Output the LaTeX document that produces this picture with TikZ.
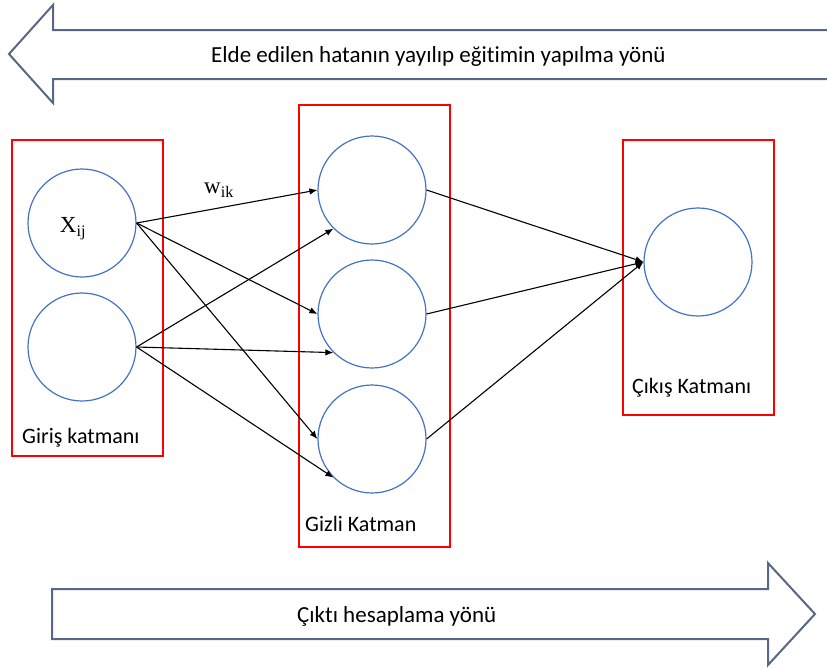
\documentclass[tikz,border=0pt]{standalone}
\usepackage{fontspec}
\setmainfont{Carlito}[Ligatures=NoCommon]
\newfontfamily\timesfont{Liberation Serif}
\usetikzlibrary{arrows.meta}
\definecolor{arrowgray}{RGB}{88,104,132}
\definecolor{neuronblue}{RGB}{68,114,196}
\tikzset{
  neuron/.style={draw=neuronblue, line width=1.2pt, circle, minimum size=108pt, inner sep=0pt},
  layerbox/.style={draw=red, line width=1.3pt},
  blockarrow/.style={draw=arrowgray, line width=2pt},
  lbl/.style={font=\fontsize{22}{26}\selectfont, anchor=base west, inner sep=0pt},
  dirlbl/.style={font=\fontsize{23}{27}\selectfont, anchor=base west, inner sep=0pt},
  symb/.style={font=\timesfont\fontsize{23}{26}\selectfont, inner sep=0pt}
}
\begin{document}
\begin{tikzpicture}[x=1pt,y=-1pt]
  \useasboundingbox (0,0) rectangle (827,667);
  % direction arrows
  \draw[blockarrow] (830,30) -- (53,30) -- (53,5) -- (9,54) -- (53,103) -- (53,79) -- (830,79);
  \node[dirlbl] (back) at (211,62) {Elde edilen hatanın yayılıp eğitimin yapılma yönü};
  \draw[blockarrow] (52,589) -- (768,589) -- (768,563) -- (815,614) -- (768,665) -- (768,639) -- (52,639) -- cycle;
  \node[dirlbl] (fwd) at (297,622) {Çıktı hesaplama yönü};
  % layers
  \draw[layerbox] (12,140) rectangle (163,456);
  \draw[layerbox] (299,105) rectangle (450,547);
  \draw[layerbox] (623,140) rectangle (774,415);
  \node[lbl] (inlbl) at (22,443) {Giriş katmanı};
  \node[lbl] (hidlbl) at (305,531) {Gizli Katman};
  \node[lbl] (outlbl) at (632,393) {Çıkış Katmanı};
  \draw
    (82,223) node[neuron] (i1){}
    (82,347) node[neuron] (i2){}
    (372,190) node[neuron] (h1){}
    (372,314) node[neuron] (h2){}
    (372,439) node[neuron] (h3){}
    (698,262) node[neuron] (o1){};
  \node[symb] (x) at (73,229) {X\textsubscript{ij}};
  \node[symb] (w) at (219,190) {w\textsubscript{ik}};
  \begin{scope}[-{Latex[length=8pt,width=6.5pt]}, line width=1.1pt]
    \draw (i1.east) to (h1.west);
    \draw (i1.east) to (h2.west);
    \draw (i1.east) to (h3.west);
    \draw (i2.east) to (h1.south west);
    \draw (i2.east) to (h2.south west);
    \draw (i2.east) to (h3.south west);
    \draw (h1.east) to (o1.west);
    \draw (h2.east) to (o1.west);
    \draw (h3.east) to (o1.west);
  \end{scope}
\end{tikzpicture}
\end{document}
